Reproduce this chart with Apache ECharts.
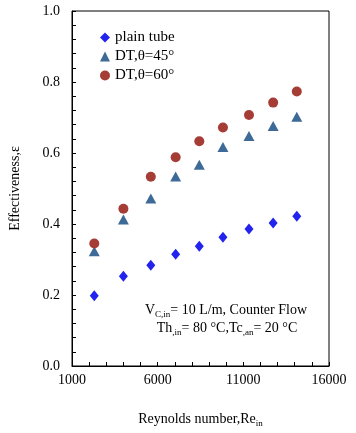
<!DOCTYPE html>
<html>
<head>
<meta charset="utf-8">
<script src="https://cdn.jsdelivr.net/npm/echarts@6/dist/echarts.min.js"></script>
<style>
html,body{margin:0;padding:0;background:#fff;}
#chart{width:356px;height:433px;}
</style>
</head>
<body>
<div id="chart"></div>
<script>
const reynolds = [2300, 4000, 5600, 7050, 8430, 9810, 11330, 12740, 14120];
const plainTube = [0.198, 0.253, 0.284, 0.315, 0.337, 0.363, 0.386, 0.403, 0.422];
const dt45 = [0.323, 0.413, 0.472, 0.534, 0.567, 0.617, 0.648, 0.676, 0.702];
const dt60 = [0.345, 0.443, 0.533, 0.588, 0.633, 0.672, 0.707, 0.742, 0.773];
const seriesNames = ['plain tube', 'DT,θ=45°', 'DT,θ=60°'];
const xTickLabels = [1000, 6000, 11000, 16000];
const xTickMarks = [1000, 2000, 3000, 4000, 5000, 6000, 7000, 8000, 9000, 10000, 11000, 12000, 13000, 14000, 15000, 16000];
const yTickLabels = ['0.0', '0.2', '0.4', '0.6', '0.8', '1.0'];

const FONT = 'Liberation Serif';
const pair = (xs, ys) => xs.map((x, i) => [x, ys[i]]);
const subRich = {
  m: {fontFamily: FONT, fontSize: 14, fill: '#000', color: '#000'},
  sub: {fontFamily: FONT, fontSize: 9, fill: '#000', color: '#000', padding: [9, 0, 0, 0]}
};
const tickStyle = {color: '#000', width: 1};

const chart = echarts.init(document.getElementById('chart'));
chart.setOption({
  animation: false,
  backgroundColor: '#fff',
  textStyle: {fontFamily: FONT, color: '#000'},
  grid: {left: 68, right: 27, top: 11, bottom: 65, containLabel: false, show: true, borderColor: '#000', borderWidth: 1},
  legend: {
    orient: 'vertical', left: 95, top: 25, itemGap: 4, itemWidth: 10, itemHeight: 10,
    textStyle: {fontFamily: FONT, fontSize: 15, color: '#000'},
    data: seriesNames
  },
  xAxis: {
    type: 'value', min: 1000, max: 16000,
    name: '{m|Reynolds number,Re}{sub|in}', nameLocation: 'middle', nameGap: 44,
    nameTextStyle: {fontFamily: FONT, fontSize: 14, color: '#000', rich: subRich},
    axisLine: {show: true, onZero: false, lineStyle: {color: '#000', width: 1}},
    axisTick: {show: true, inside: true, length: 4, customValues: xTickMarks, lineStyle: tickStyle},
    axisLabel: {fontFamily: FONT, fontSize: 14, color: '#000', margin: 7, customValues: xTickLabels,
      formatter: v => String(Math.round(v))},
    splitLine: {show: false}
  },
  yAxis: {
    type: 'value', min: 0, max: 1, interval: 0.2,
    minorTick: {show: true, splitNumber: 5, length: 4, lineStyle: tickStyle},
    name: 'Effectiveness,ε', nameLocation: 'middle', nameGap: 50,
    nameTextStyle: {fontFamily: FONT, fontSize: 14, color: '#000'},
    axisLine: {show: true, onZero: false, lineStyle: {color: '#000', width: 1}},
    axisTick: {show: true, inside: true, length: 4, lineStyle: tickStyle},
    axisLabel: {fontFamily: FONT, fontSize: 14, color: '#000', margin: 12,
      formatter: v => yTickLabels[Math.round(v * 5)]},
    splitLine: {show: false}
  },
  series: [
    {name: seriesNames[0], type: 'scatter', symbol: 'diamond', symbolSize: [9, 11], itemStyle: {color: '#2323EE', opacity: 1}, data: pair(reynolds, plainTube)},
    {name: seriesNames[1], type: 'scatter', symbol: 'triangle', symbolSize: [11, 10], itemStyle: {color: '#3D6A96', opacity: 1}, data: pair(reynolds, dt45)},
    {name: seriesNames[2], type: 'scatter', symbol: 'circle', symbolSize: 10, itemStyle: {color: '#A53D36', opacity: 1}, data: pair(reynolds, dt60)}
  ],
  graphic: [
    {type: 'text', x: 226, y: 301, style: {
      text: '{m|V}{sub|C,in}{m|= 10 L/m, Counter Flow}', fill: '#000', align: 'center', verticalAlign: 'top',
      rich: subRich
    }},
    {type: 'text', x: 227, y: 319, style: {
      text: '{m|Th}{sub|,in}{m|= 80 °C,Tc}{sub|,an}{m|= 20 °C}', fill: '#000', align: 'center', verticalAlign: 'top',
      rich: subRich
    }}
  ]
});
</script>
</body>
</html>
